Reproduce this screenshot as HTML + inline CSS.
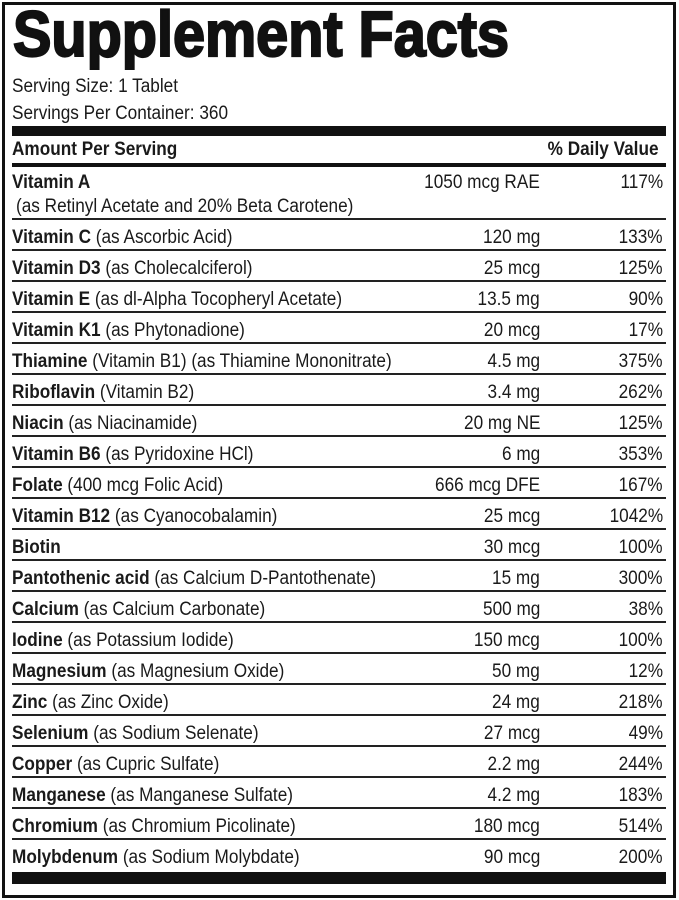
<!DOCTYPE html>
<html><head><meta charset="utf-8"><style>
body{margin:0;background:#fff;}
#w{position:relative;width:679px;height:900px;overflow:hidden;background:#fff;font-family:"Liberation Sans",sans-serif;color:#1a1a1a;}
.box{position:absolute;left:2px;top:2px;width:668px;height:890px;border:3px solid #111;}
.bar{position:absolute;left:12px;width:654px;background:#111;}
.t{position:absolute;white-space:nowrap;font-size:19px;line-height:20px;transform:scaleX(0.905);}
.l{transform-origin:left center;left:12px;}
.r{transform-origin:right center;}
.row{position:absolute;left:12px;width:654px;height:31px;border-bottom:2px solid #222;box-sizing:border-box;}
b{font-weight:bold;}
</style></head><body><div id="w">
<div class="box"></div>
<svg style="position:absolute;left:0;top:0" width="679" height="70"><text x="13" y="56" font-family="Liberation Sans" font-weight="bold" font-size="64" textLength="496" lengthAdjust="spacingAndGlyphs" fill="#111" stroke="#111" stroke-width="2.2">Supplement Facts</text></svg>
<div class="t l" style="top:77px">Serving Size: 1 Tablet</div>
<div class="t l" style="top:104px">Servings Per Container: 360</div>
<div class="bar" style="top:126px;height:10px"></div>
<div class="t l" style="top:140px"><b>Amount Per Serving</b></div>
<div class="t r" style="top:140px;right:20px"><b>% Daily Value</b></div>
<div class="bar" style="top:163px;height:4px"></div>
<div class="row" style="top:167px;height:53px"></div>
<div class="t l" style="top:173px"><b>Vitamin A</b></div>
<div class="t l" style="top:197px;left:16px">(as Retinyl Acetate and 20% Beta Carotene)</div>
<div class="t r" style="top:173px;right:139px">1050 mcg RAE</div>
<div class="t r" style="top:173px;right:16px">117%</div>
<div id="rows"></div>
<div class="bar" style="top:872px;height:12px"></div>
</div>
<script>
var d=[["Vitamin C","(as Ascorbic Acid)","120 mg","133%"],["Vitamin D3","(as Cholecalciferol)","25 mcg","125%"],["Vitamin E","(as dl-Alpha Tocopheryl Acetate)","13.5 mg","90%"],["Vitamin K1","(as Phytonadione)","20 mcg","17%"],["Thiamine","(Vitamin B1) (as Thiamine Mononitrate)","4.5 mg","375%"],["Riboflavin","(Vitamin B2)","3.4 mg","262%"],["Niacin","(as Niacinamide)","20 mg NE","125%"],["Vitamin B6","(as Pyridoxine HCl)","6 mg","353%"],["Folate","(400 mcg Folic Acid)","666 mcg DFE","167%"],["Vitamin B12","(as Cyanocobalamin)","25 mcg","1042%"],["Biotin","","30 mcg","100%"],["Pantothenic acid","(as Calcium D-Pantothenate)","15 mg","300%"],["Calcium","(as Calcium Carbonate)","500 mg","38%"],["Iodine","(as Potassium Iodide)","150 mcg","100%"],["Magnesium","(as Magnesium Oxide)","50 mg","12%"],["Zinc","(as Zinc Oxide)","24 mg","218%"],["Selenium","(as Sodium Selenate)","27 mcg","49%"],["Copper","(as Cupric Sulfate)","2.2 mg","244%"],["Manganese","(as Manganese Sulfate)","4.2 mg","183%"],["Chromium","(as Chromium Picolinate)","180 mcg","514%"],["Molybdenum","(as Sodium Molybdate)","90 mcg","200%"]];
var h="";d.forEach(function(r,i){var y=220+i*31;
if(i<d.length-1)h+='<div class="row" style="top:'+y+'px"></div>';
var ty=y+8;
h+='<div class="t l" style="top:'+ty+'px"><b>'+r[0]+'</b> '+r[1]+'</div>';
h+='<div class="t r" style="top:'+ty+'px;right:139px">'+r[2]+'</div>';
h+='<div class="t r" style="top:'+ty+'px;right:16px">'+r[3]+'</div>';});
document.getElementById("rows").outerHTML=h;
</script>
</body></html>
